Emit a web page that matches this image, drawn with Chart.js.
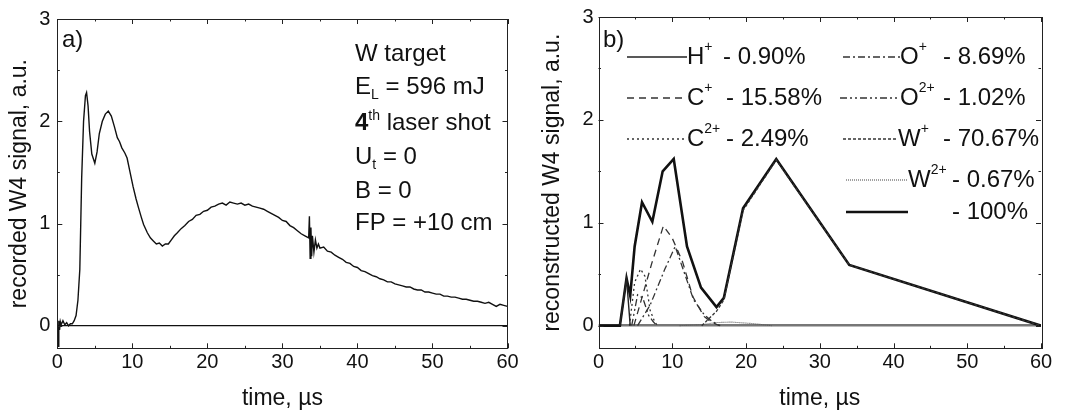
<!DOCTYPE html>
<html><head><meta charset="utf-8">
<script src="https://cdn.jsdelivr.net/npm/chart.js@4.4.1/dist/chart.umd.min.js"></script>
<style>
html,body{margin:0;padding:0;background:#fff;width:1069px;height:413px;overflow:hidden}
#wa{position:absolute;left:0;top:0;width:534px;height:413px}
#wb{position:absolute;left:534px;top:0;width:535px;height:413px}
</style></head><body>
<div id="wa"><canvas id="ca"></canvas></div>
<div id="wb"><canvas id="cb"></canvas></div>
<script>
// ---------- data ----------
const xTicks = [0, 10, 20, 30, 40, 50, 60];
const yTicks = [0, 1, 2, 3];

// panel a) recorded W4 signal
const recT = [0,0.1,0.2,0.3,0.4,0.5,0.75,1,1.25,1.5,1.75,2,2.25,2.5,2.75,3,3.25,3.5,3.75,3.9,4.1,4.3,4.6,5,5.3,5.6,6,6.4,6.8,7.2,7.6,8,8.3,8.6,9,9.3,9.7,10.1,10.5,10.8,11.2,11.5,12,12.4,12.8,13.2,13.6,14,14.4,14.8,15.2,15.6,16,16.5,17,17.5,18,18.5,19,19.5,20,20.5,21,21.5,22,22.5,23,23.5,24,24.5,25,25.5,26,26.5,27,27.5,28,28.5,29,29.5,30,30.5,31,31.5,32,32.5,33,33.5,33.6,33.7,33.8,33.9,34,34.2,34.4,34.6,34.8,35,35.5,36,36.5,37,37.5,38,38.5,39,39.5,40,40.5,41,41.5,42,42.5,43,43.5,44,44.5,45,45.5,46,46.5,47,47.5,48,48.5,49,49.5,50,50.5,51,51.5,52,52.5,53,53.5,54,54.5,55,55.5,56,56.5,57,57.5,58,58.5,59,59.5,60];
const recV = [0.02,-0.2,0.05,-0.04,0.04,0.01,0.05,0.01,0.03,0.0,0.02,0.02,0.05,0.1,0.25,0.55,1.45,2.0,2.25,2.28,2.15,1.9,1.68,1.59,1.7,1.88,2.0,2.07,2.1,2.05,1.95,1.84,1.8,1.74,1.69,1.64,1.5,1.36,1.24,1.16,1.06,0.99,0.91,0.86,0.83,0.8,0.81,0.78,0.8,0.8,0.84,0.88,0.91,0.95,0.98,1.02,1.04,1.08,1.09,1.12,1.13,1.16,1.17,1.19,1.2,1.18,1.21,1.2,1.19,1.2,1.18,1.19,1.17,1.16,1.15,1.14,1.12,1.1,1.08,1.06,1.03,1.02,0.98,0.96,0.93,0.9,0.88,0.86,1.07,0.66,0.96,0.68,0.88,0.72,0.84,0.76,0.8,0.76,0.77,0.73,0.72,0.69,0.67,0.65,0.62,0.61,0.58,0.57,0.54,0.53,0.51,0.49,0.48,0.46,0.45,0.43,0.43,0.41,0.4,0.39,0.38,0.38,0.36,0.35,0.35,0.33,0.33,0.32,0.31,0.31,0.29,0.29,0.28,0.28,0.27,0.26,0.26,0.25,0.24,0.24,0.23,0.22,0.23,0.21,0.19,0.21,0.2,0.19];

// panel b) reconstructed components
const hT  = [2.9, 3.8, 4.3];                 const hV  = [0, 0.46, 0];
const c1T = [4.8, 6.0, 7.2, 8.8, 10.0, 11.4, 12.8, 14.3, 15.4, 16.4];
const c1V = [0, 0.30, 0.60, 0.97, 0.85, 0.62, 0.28, 0.09, 0.03, 0];
const c2T = [4.2, 4.9, 5.7, 6.3, 7.0, 7.6, 8.0];
const c2V = [0, 0.42, 0.55, 0.48, 0.15, 0.04, 0];
const o1T = [5.3, 7.0, 9.0, 10.4, 11.8, 12.9, 14.3, 15.4, 16.5];
const o1V = [0, 0.20, 0.55, 0.77, 0.48, 0.25, 0.11, 0.04, 0];
const o2T = [4.5, 5.3, 6.0, 6.8, 7.4, 7.9];
const o2V = [0, 0.30, 0.27, 0.10, 0.04, 0];
const w1T = [14.0, 16.0, 17.0, 19.6, 24.1, 34.0, 60];
const w1V = [0, 0.14, 0.25, 1.12, 1.61, 0.59, 0];
const w2T = [11, 14, 16, 18, 21, 23.5];
const w2V = [0, 0.01, 0.03, 0.035, 0.02, 0];
const totT = [0, 2.9, 3.8, 4.3, 4.9, 5.9, 7.3, 8.7, 10.2, 12.0, 13.9, 16.0, 17.0, 19.6, 24.1, 34.0, 60];
const totV = [0, 0, 0.46, 0.29, 0.77, 1.20, 1.01, 1.50, 1.62, 0.77, 0.37, 0.18, 0.27, 1.14, 1.62, 0.59, 0];

// ---------- helpers ----------
const F = "'Liberation Sans', Arial, sans-serif";
const INK = '#111';
const pts = (T, V) => T.map((t, i) => ({x: t, y: V[i]}));

function axes(yTitle, yW, yPad, yTitlePad, zeroColor, zeroWidth) {
  return {
    x: {
      type: 'linear', min: 0, max: 60,
      afterFit: s => { s.height = 64.7; },
      afterBuildTicks: s => { s.ticks = xTicks.map(v => ({value: v})); },
      ticks: {font: {family: F, size: 20}, color: INK, padding: 2, maxRotation: 0, autoSkip: false},
      grid: {display: false, drawTicks: false},
      border: {display: false},
      title: {display: true, text: 'time, µs', font: {family: F, size: 23}, color: INK, padding: {top: 0, bottom: 1}}
    },
    y: {
      type: 'linear', min: -0.22, max: 3,
      afterFit: s => { s.width = yW; },
      afterBuildTicks: s => { s.ticks = yTicks.map(v => ({value: v})); },
      ticks: {font: {family: F, size: 20}, color: INK, padding: yPad, callback: v => String(v)},
      grid: {drawTicks: false, color: c => (c.tick && c.tick.value === 0) ? zeroColor : 'rgba(0,0,0,0)', lineWidth: zeroWidth},
      border: {display: false},
      title: {display: true, text: yTitle, font: {family: F, size: 23}, color: INK, padding: {top: yTitlePad, bottom: 0}}
    }
  };
}

const framePlugin = {
  id: 'frame',
  afterDatasetsDraw(chart) {
    const {ctx, chartArea: a, scales: {x, y}} = chart;
    ctx.save();
    ctx.strokeStyle = '#222'; ctx.lineWidth = 1;
    ctx.strokeRect(Math.round(a.left) + 0.5, Math.round(a.top) + 0.5, Math.round(a.right - a.left), Math.round(a.bottom - a.top));
    ctx.beginPath();
    const xs = [];
    for (let i = 0; i < xTicks.length; i++) {
      xs.push([xTicks[i], 5]);
      if (i < xTicks.length - 1) xs.push([(xTicks[i] + xTicks[i + 1]) / 2, 2.5]);
    }
    xs.forEach(([v, L]) => {
      const p = Math.round(x.getPixelForValue(v)) + 0.5;
      ctx.moveTo(p, a.bottom); ctx.lineTo(p, a.bottom - L);
      ctx.moveTo(p, a.top); ctx.lineTo(p, a.top + L);
    });
    const ys = [];
    for (let i = 0; i < yTicks.length; i++) {
      ys.push([yTicks[i], 5]);
      if (i < yTicks.length - 1) ys.push([(yTicks[i] + yTicks[i + 1]) / 2, 2.5]);
    }
    ys.forEach(([v, L]) => {
      const p = Math.round(y.getPixelForValue(v)) + 0.5;
      ctx.moveTo(a.left, p); ctx.lineTo(a.left + L, p);
      ctx.moveTo(a.right, p); ctx.lineTo(a.right - L, p);
    });
    ctx.stroke();
    ctx.restore();
  }
};

// draw text runs: parts [{t, sup, sub, bold}]
function rich(ctx, x, y, parts, size) {
  let cx = x;
  parts.forEach(p => {
    const small = p.sup || p.sub;
    const fs = small ? Math.round(size * 0.58) : size;
    ctx.font = (p.bold ? 'bold ' : '') + fs + 'px ' + F;
    const dy = p.sup ? -size * 0.42 : (p.sub ? size * 0.22 : 0);
    ctx.fillText(p.t, cx, y + dy);
    cx += ctx.measureText(p.t).width;
  });
  return cx;
}

// ---------- chart a ----------
const annoA = {
  id: 'annoA',
  afterDraw(chart) {
    const ctx = chart.ctx;
    ctx.save();
    ctx.fillStyle = INK; ctx.textBaseline = 'alphabetic'; ctx.textAlign = 'left';
    rich(ctx, 62, 47, [{t: 'a)'}], 24);
    const X = 355;
    rich(ctx, X, 61, [{t: 'W target'}], 24);
    rich(ctx, X, 94, [{t: 'E'}, {t: 'L', sub: true}, {t: ' = 596 mJ'}], 24);
    rich(ctx, X, 130, [{t: '4', bold: true}, {t: 'th', sup: true}, {t: ' laser shot'}], 24);
    rich(ctx, X, 164, [{t: 'U'}, {t: 't', sub: true}, {t: ' = 0'}], 24);
    rich(ctx, X, 198, [{t: 'B = 0'}], 24);
    rich(ctx, X, 230, [{t: 'FP = +10 cm'}], 24);
    ctx.restore();
  }
};

new Chart(document.getElementById('ca'), {
  type: 'line',
  data: {datasets: [{data: pts(recT, recV), borderColor: '#111', borderWidth: 1.4, pointRadius: 0, tension: 0}]},
  options: {
    responsive: true, maintainAspectRatio: false, animation: false, devicePixelRatio: 1,
    layout: {padding: {left: 0, top: 16.7, right: 26.5, bottom: 0}},
    plugins: {legend: {display: false}, tooltip: {enabled: false}},
    scales: axes('recorded W4 signal, a.u.', 57.3, 7, 6, '#111', 1.2)
  },
  plugins: [framePlugin, annoA]
});

// ---------- chart b ----------
const series = [
  {T: hT,  V: hV,  dash: [],               w: 1.4, c: '#222', sym: 'H', sup: '+', pct: '- 0.90%'},
  {T: c1T, V: c1V, dash: [7, 5],           w: 1.3, c: '#333', sym: 'C', sup: '+', pct: '- 15.58%'},
  {T: c2T, V: c2V, dash: [2, 3],           w: 1.3, c: '#333', sym: 'C', sup: '2+', pct: '- 2.49%'},
  {T: o1T, V: o1V, dash: [7, 3, 2, 3],     w: 1.3, c: '#333', sym: 'O', sup: '+', pct: '- 8.69%'},
  {T: o2T, V: o2V, dash: [7, 3, 2, 3, 2, 3], w: 1.3, c: '#333', sym: 'O', sup: '2+', pct: '- 1.02%'},
  {T: w1T, V: w1V, dash: [3, 2],           w: 1.3, c: '#333', sym: 'W', sup: '+', pct: '- 70.67%'},
  {T: w2T, V: w2V, dash: [1, 1],           w: 1.1, c: '#555', sym: 'W', sup: '2+', pct: '- 0.67%'},
  {T: totT, V: totV, dash: [],             w: 2.6, c: '#111', sym: '', sup: '', pct: '- 100%'}
];

const OX = 534; // page x offset of canvas b
const legendLayout = [
  {x1: 627, x2: 687, y: 57,  tx: 687, px: 723},
  {x1: 627, x2: 687, y: 98,  tx: 687, px: 726},
  {x1: 627, x2: 687, y: 139, tx: 687, px: 726},
  {x1: 843, x2: 900, y: 57,  tx: 900, px: 943},
  {x1: 840, x2: 900, y: 98,  tx: 900, px: 943},
  {x1: 843, x2: 898, y: 139, tx: 898, px: 943},
  {x1: 846, x2: 908, y: 180, tx: 908, px: 952},
  {x1: 846, x2: 908, y: 212, tx: 908, px: 952}
];

const legendB = {
  id: 'legendB',
  afterDraw(chart) {
    const ctx = chart.ctx;
    ctx.save();
    ctx.fillStyle = INK; ctx.textAlign = 'left';
    ctx.textBaseline = 'alphabetic';
    rich(ctx, 603 - OX, 47, [{t: 'b)'}], 24);
    ctx.textBaseline = 'middle';
    series.forEach((s, i) => {
      const L = legendLayout[i];
      ctx.strokeStyle = s.c; ctx.lineWidth = s.w; ctx.setLineDash(s.dash);
      ctx.beginPath(); ctx.moveTo(L.x1 - OX, L.y); ctx.lineTo(L.x2 - OX, L.y); ctx.stroke();
      ctx.setLineDash([]);
      if (s.sym) rich(ctx, L.tx - OX, L.y, [{t: s.sym}, {t: s.sup, sup: true}], 24);
      rich(ctx, L.px - OX, L.y, [{t: s.pct}], 24);
    });
    ctx.restore();
  }
};

new Chart(document.getElementById('cb'), {
  type: 'line',
  data: {datasets: series.map(s => ({
    data: pts(s.T, s.V), borderColor: s.c, borderWidth: s.w, borderDash: s.dash,
    pointRadius: 0, tension: 0
  }))},
  options: {
    responsive: true, maintainAspectRatio: false, animation: false, devicePixelRatio: 1,
    layout: {padding: {left: 0, top: 16.7, right: 28, bottom: 0}},
    plugins: {legend: {display: false}, tooltip: {enabled: false}},
    scales: axes('reconstructed W4 signal, a.u.', 64.5, 5, 5, '#777', 2.5)
  },
  plugins: [framePlugin, legendB]
});
</script>
</body></html>
